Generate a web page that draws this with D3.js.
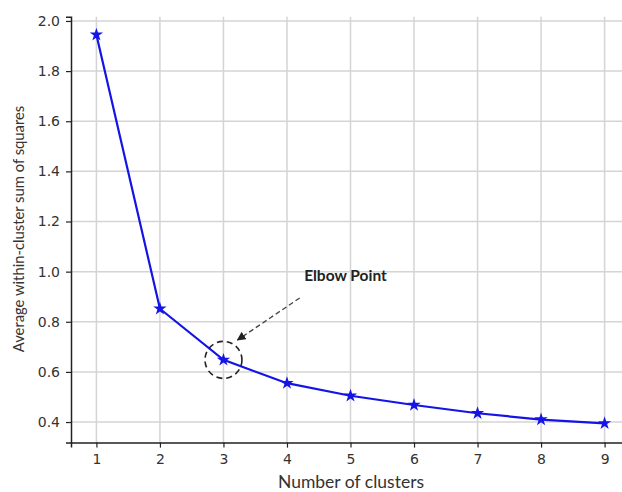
<!DOCTYPE html>
<html>
<head>
<meta charset="utf-8">
<script src="https://cdn.jsdelivr.net/npm/d3@7"></script>
<style>
  body { margin: 0; background: #fff; }
  svg { display: block; }
</style>
</head>
<body>
<svg id="chart" width="622" height="492"></svg>
<script>
// values
const clusters = [1, 2, 3, 4, 5, 6, 7, 8, 9];
const avgWss = [1.945, 0.852, 0.648, 0.555, 0.505, 0.468, 0.435, 0.41, 0.395];
const yTicks = [0.4, 0.6, 0.8, 1.0, 1.2, 1.4, 1.6, 1.8, 2.0];

// annotation, in data units
const elbowAt = [3, 0.648];
const arrowFrom = [4.2, 0.895];
const arrowTo = [3.22, 0.727];
const labelAt = [4.27, 0.962];

const svg = d3.select("#chart");

const x = d3.scaleLinear().domain([0.6, 9.4]).range([71, 630]);
const y = d3.scaleLinear().domain([0.318, 2.017]).range([442.6, 16.7]);

const tickFont = "'DejaVu Sans', sans-serif";
const labelFont = "Lato, 'Open Sans', sans-serif";

// grid
const grid = svg.append("g").attr("stroke", "#d4d4d4").attr("stroke-width", 1.5);
grid.selectAll("line.v").data(clusters).enter().append("line")
  .attr("x1", d => x(d)).attr("x2", d => x(d))
  .attr("y1", y.range()[1]).attr("y2", y.range()[0]);
grid.selectAll("line.h").data(yTicks).enter().append("line")
  .attr("x1", x.range()[0]).attr("x2", 622)
  .attr("y1", d => y(d)).attr("y2", d => y(d));

// axes
const xAxis = svg.append("g")
  .attr("transform", `translate(0,${y.range()[0]})`)
  .call(d3.axisBottom(x).tickValues(clusters).tickFormat(d3.format("d")).tickSizeOuter(0).tickSize(5).tickPadding(6));
const yAxis = svg.append("g")
  .attr("transform", `translate(${x.range()[0]},0)`)
  .call(d3.axisLeft(y).tickValues(yTicks).tickFormat(d3.format(".1f")).tickSizeOuter(0).tickSize(5).tickPadding(6));

[xAxis, yAxis].forEach(a => {
  a.select(".domain").attr("stroke", "#222").attr("stroke-width", 1.5);
  a.selectAll(".tick line").attr("stroke", "#222").attr("stroke-width", 1.2);
  a.selectAll(".tick text").attr("fill", "#333").style("font-family", tickFont).style("font-size", "14px");
});

// axis titles
svg.append("text")
  .attr("x", 351).attr("y", 488)
  .attr("text-anchor", "middle")
  .style("font-family", labelFont).style("font-size", "17.5px").attr("fill", "#333")
  .text("Number of clusters");

svg.append("text")
  .attr("transform", "translate(24,229) rotate(-90)")
  .attr("text-anchor", "middle")
  .style("font-family", labelFont).style("font-size", "14.8px").attr("fill", "#333")
  .text("Average within-cluster sum of squares");

// line and star markers
const pts = clusters.map((c, i) => [c, avgWss[i]]);
svg.append("path")
  .datum(pts)
  .attr("fill", "none").attr("stroke", "#1414e6").attr("stroke-width", 2.2)
  .attr("d", d3.line().x(d => x(d[0])).y(d => y(d[1])));

svg.selectAll("path.star").data(pts).enter().append("path")
  .attr("class", "star")
  .attr("transform", d => `translate(${x(d[0])},${y(d[1])})`)
  .attr("d", d3.symbol().type(d3.symbolStar).size(55))
  .attr("fill", "#1414e6");

// elbow annotation
svg.append("defs").append("marker")
  .attr("id", "head").attr("viewBox", "0 0 10 10")
  .attr("refX", 9).attr("refY", 5)
  .attr("markerWidth", 9).attr("markerHeight", 9)
  .attr("markerUnits", "userSpaceOnUse")
  .attr("orient", "auto")
  .append("path").attr("d", "M0,0 L10,5 L0,10 z").attr("fill", "#222");

svg.append("circle")
  .attr("cx", x(elbowAt[0])).attr("cy", y(elbowAt[1])).attr("r", 18.5)
  .attr("fill", "none").attr("stroke", "#222").attr("stroke-width", 1.6)
  .attr("stroke-dasharray", "6,4");

svg.append("line")
  .attr("x1", x(arrowFrom[0])).attr("y1", y(arrowFrom[1]))
  .attr("x2", x(arrowTo[0])).attr("y2", y(arrowTo[1]))
  .attr("stroke", "#444").attr("stroke-width", 1.3)
  .attr("stroke-dasharray", "5,3")
  .attr("marker-end", "url(#head)");

svg.append("text")
  .attr("x", x(labelAt[0])).attr("y", y(labelAt[1]))
  .style("font-family", labelFont).style("font-size", "15.5px").style("font-weight", "bold")
  .attr("fill", "#222")
  .text("Elbow Point");
</script>
</body>
</html>
